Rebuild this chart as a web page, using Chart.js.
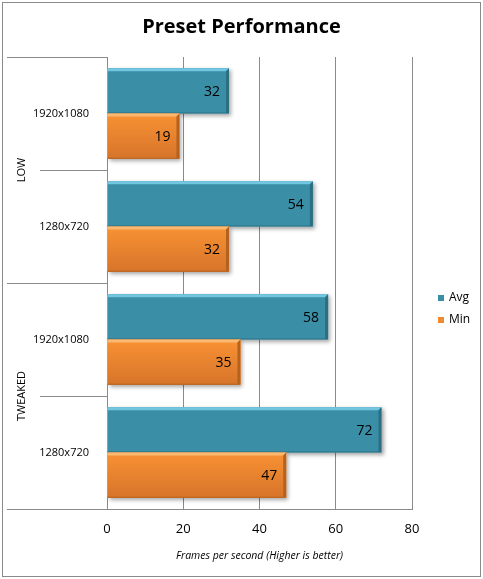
<!DOCTYPE html>
<html>
<head>
<meta charset="utf-8">
<script src="https://cdn.jsdelivr.net/npm/chart.js@4.4.0/dist/chart.umd.min.js"></script>
<style>
    html, body { margin: 0; padding: 0; background: #fff; }
    #wrap { position: absolute; left: 0; top: 0; width: 483px; height: 579px; }
</style>
</head>
<body>
<div id="wrap"><canvas id="preset-chart"></canvas></div>
<script>
    // chart data
    var chartTitle = 'Preset Performance';
    var groups = ['LOW', 'TWEAKED'];
    var resolutions = ['1920x1080', '1280x720', '1920x1080', '1280x720'];
    var avgFps = [32, 54, 58, 72];
    var minFps = [19, 32, 35, 47];
    var seriesNames = ['Avg', 'Min'];

    var colors = {
        avg: '#3a8ea6', avgLight: '#72c6df', avgDark: '#2b6f83',
        min: '#f08a2e', minTop: '#f99234', minBottom: '#d6742a', minLight: '#fbb870', minDark: '#b5621f',
        line: '#8a8a8a'
    };
    var fontFamily = '"Open Sans", "Liberation Sans", sans-serif';

    // bevel, shadow and value labels drawn over the bars
    var barStyle = {
        id: 'barStyle',
        beforeDatasetsDraw: function (chart) {
            var ctx = chart.ctx;
            ctx.save();
            ctx.shadowColor = 'rgba(0,0,0,0.35)';
            ctx.shadowBlur = 4;
            ctx.shadowOffsetX = 2;
            ctx.shadowOffsetY = 2;
            ctx.fillStyle = '#fff';
            chart.data.datasets.forEach(function (ds, di) {
                chart.getDatasetMeta(di).data.forEach(function (bar) {
                    var h = bar.height;
                    ctx.fillRect(bar.base, bar.y - h / 2, bar.x - bar.base, h);
                });
            });
            ctx.restore();
        },
        afterDatasetsDraw: function (chart) {
            var ctx = chart.ctx;
            var b = 3;
            chart.data.datasets.forEach(function (ds, di) {
                var light = di === 0 ? colors.avgLight : colors.minLight;
                var dark = di === 0 ? colors.avgDark : colors.minDark;
                chart.getDatasetMeta(di).data.forEach(function (bar, i) {
                    var l = bar.base, r = bar.x, t = bar.y - bar.height / 2, btm = bar.y + bar.height / 2;
                    ctx.save();
                    if (di === 1) {
                        var g = ctx.createLinearGradient(0, t, 0, btm);
                        g.addColorStop(0, colors.minTop);
                        g.addColorStop(1, colors.minBottom);
                        ctx.fillStyle = g;
                        ctx.fillRect(l, t, r - l, btm - t);
                    }
                    ctx.fillStyle = light;
                    ctx.beginPath();
                    ctx.moveTo(l, t); ctx.lineTo(r, t); ctx.lineTo(r - b, t + b); ctx.lineTo(l, t + b);
                    ctx.closePath(); ctx.fill();
                    ctx.fillStyle = dark;
                    ctx.beginPath();
                    ctx.moveTo(r, t); ctx.lineTo(r, btm); ctx.lineTo(l, btm); ctx.lineTo(l, btm - 1);
                    ctx.lineTo(r - b, btm - 1); ctx.lineTo(r - b, t + b);
                    ctx.closePath(); ctx.fill();

                    ctx.fillStyle = '#000';
                    ctx.font = '14px ' + fontFamily;
                    ctx.textAlign = 'right';
                    ctx.textBaseline = 'middle';
                    ctx.fillText(ds.data[i], r - 9, bar.y + 1);
                    ctx.restore();
                });
            });
        }
    };

    // title, two-level category axis, legend and frame
    var frame = {
        id: 'frame',
        afterDraw: function (chart) {
            var ctx = chart.ctx;
            var area = chart.chartArea;
            var n = resolutions.length;
            var step = (area.bottom - area.top) / n;
            ctx.save();

            ctx.fillStyle = '#000';
            ctx.font = 'bold 20px ' + fontFamily;
            ctx.textAlign = 'center';
            ctx.textBaseline = 'middle';
            ctx.fillText(chartTitle, chart.width / 2, 27);

            ctx.strokeStyle = colors.line;
            ctx.lineWidth = 1;
            for (var i = 0; i <= n; i++) {
                var y = Math.round(area.top + i * step) + 0.5;
                var x0 = (i % 2 === 0) ? 7 : 40;
                ctx.beginPath();
                ctx.moveTo(x0, y);
                ctx.lineTo(area.left, y);
                ctx.stroke();
            }

            ctx.font = '11px ' + fontFamily;
            groups.forEach(function (g, gi) {
                var cy = area.top + (gi * 2 + 1) * step;
                ctx.save();
                ctx.translate(22, cy);
                ctx.rotate(-Math.PI / 2);
                ctx.fillText(g, 0, 0);
                ctx.restore();
            });

            // legend
            var legendColors = [colors.avg, colors.min];
            ctx.font = '12px ' + fontFamily;
            ctx.textAlign = 'left';
            seriesNames.forEach(function (name, si) {
                var cy = 298 + si * 22;
                ctx.fillStyle = legendColors[si];
                ctx.fillRect(438, cy - 3, 6, 6);
                ctx.fillStyle = '#000';
                ctx.fillText(name, 449, cy);
            });

            ctx.strokeStyle = colors.line;
            ctx.strokeRect(2.5, 2.5, 478, 574);
            ctx.restore();
        }
    };

    var ctx = document.getElementById('preset-chart').getContext('2d');
    var chart = new Chart(ctx, {
        type: 'bar',
        data: {
            labels: resolutions,
            datasets: [{
                label: seriesNames[0],
                data: avgFps,
                backgroundColor: colors.avg,
                categoryPercentage: 0.8,
                barPercentage: 1
            }, {
                label: seriesNames[1],
                data: minFps,
                backgroundColor: colors.min,
                categoryPercentage: 0.8,
                barPercentage: 1
            }]
        },
        options: {
            indexAxis: 'y',
            responsive: true,
            maintainAspectRatio: false,
            animation: false,
            layout: { padding: { left: 0, right: 71, top: 57, bottom: 0 } },
            plugins: {
                legend: { display: false },
                tooltip: { enabled: false },
                title: { display: false }
            },
            scales: {
                x: {
                    min: 0, max: 80,
                    ticks: { stepSize: 20, color: '#000', padding: 12, font: { family: fontFamily, size: 13 } },
                    grid: { color: colors.line, drawTicks: false },
                    border: { color: colors.line },
                    title: {
                        display: true,
                        text: 'Frames per second (Higher is better)',
                        color: '#000',
                        font: { family: fontFamily, size: 10.5, style: 'italic' },
                        padding: { top: 10, bottom: 17 }
                    },
                    afterFit: function (scale) { scale.height = 70; }
                },
                y: {
                    ticks: { color: '#000', padding: 10, font: { family: fontFamily, size: 11 } },
                    grid: { display: false },
                    border: { color: colors.line },
                    afterFit: function (scale) { scale.width = 107; }
                }
            }
        },
        plugins: [barStyle, frame]
    });
</script>
</body>
</html>
